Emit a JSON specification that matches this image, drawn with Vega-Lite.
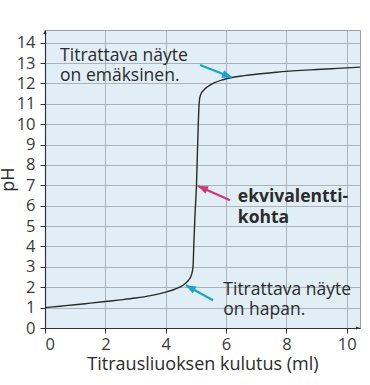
{
  "$schema": "https://vega.github.io/schema/vega-lite/v6.json",
  "width": 315,
  "height": 298,
  "autosize": "none",
  "padding": {"left": 45, "top": 30, "right": 10, "bottom": 58},
  "background": "white",
  "config": {
    "font": "Open Sans",
    "view": {"fill": "#e1eef6", "stroke": "#9a9fa4", "strokeWidth": 1}
  },
  "datasets": {
    "curve": [
      {"v": 0, "ph": 1.0}, {"v": 0.5, "ph": 1.07}, {"v": 1, "ph": 1.14}, {"v": 1.5, "ph": 1.22},
      {"v": 2, "ph": 1.3}, {"v": 2.5, "ph": 1.38}, {"v": 3, "ph": 1.47}, {"v": 3.5, "ph": 1.59},
      {"v": 4, "ph": 1.76}, {"v": 4.3, "ph": 1.9}, {"v": 4.5, "ph": 2.03}, {"v": 4.65, "ph": 2.18},
      {"v": 4.75, "ph": 2.33}, {"v": 4.83, "ph": 2.52}, {"v": 4.88, "ph": 2.75}, {"v": 4.91, "ph": 3.1},
      {"v": 4.93, "ph": 4.0}, {"v": 4.97, "ph": 5.5}, {"v": 5.02, "ph": 7.0}, {"v": 5.05, "ph": 8.5},
      {"v": 5.08, "ph": 10.0}, {"v": 5.1, "ph": 10.8}, {"v": 5.12, "ph": 11.2}, {"v": 5.16, "ph": 11.45},
      {"v": 5.25, "ph": 11.65}, {"v": 5.4, "ph": 11.85}, {"v": 5.6, "ph": 12.02}, {"v": 5.9, "ph": 12.18},
      {"v": 6.2, "ph": 12.29}, {"v": 6.6, "ph": 12.38}, {"v": 7, "ph": 12.45}, {"v": 7.5, "ph": 12.52},
      {"v": 8, "ph": 12.59}, {"v": 8.5, "ph": 12.64}, {"v": 9, "ph": 12.68}, {"v": 9.5, "ph": 12.72},
      {"v": 10, "ph": 12.76}, {"v": 10.44, "ph": 12.8}
    ],
    "arrows": [
      {"arrow": "top", "part": "start", "v": 5.14, "ph": 12.9},
      {"arrow": "top", "part": "tip", "v": 6.2, "ph": 12.29},
      {"arrow": "mid", "part": "start", "v": 6.13, "ph": 6.27},
      {"arrow": "mid", "part": "tip", "v": 5.07, "ph": 6.97},
      {"arrow": "bot", "part": "start", "v": 5.57, "ph": 1.36},
      {"arrow": "bot", "part": "tip", "v": 4.67, "ph": 2.1}
    ],
    "labels": [
      {"kind": "normal", "text": "Titrattava näyte", "v": 0.5, "ph": 13.1},
      {"kind": "normal", "text": "on emäksinen.", "v": 0.5, "ph": 12.12},
      {"kind": "bold", "text": "ekvivalentti-", "v": 6.39, "ph": 6.19},
      {"kind": "bold", "text": "kohta", "v": 6.39, "ph": 5.13},
      {"kind": "normal", "text": "Titrattava näyte", "v": 5.91, "ph": 1.64},
      {"kind": "normal", "text": "on hapan.", "v": 5.91, "ph": 0.62}
    ],
    "axisEnds": [
      {"end": "y", "v": 0, "ph": 14.62},
      {"end": "x", "v": 10.44, "ph": 0}
    ]
  },
  "encoding": {
    "x": {
      "field": "v", "type": "quantitative",
      "scale": {"domain": [0, 10.44], "nice": false, "zero": false},
      "axis": {
        "title": "Titrausliuoksen kulutus (ml)",
        "values": [0, 2, 4, 6, 8, 10],
        "grid": true, "gridColor": "#aab3bb", "gridWidth": 1,
        "domainColor": "#333333", "domainWidth": 1.2,
        "tickColor": "#333333", "tickSize": 5,
        "labelFont": "Open Sans", "labelFontSize": 16.5, "labelColor": "#3a3a3a", "labelPadding": 3,
        "titleFont": "Open Sans", "titleFontSize": 18, "titleFontWeight": "normal", "titleColor": "#2b2b2b", "titlePadding": 3
      }
    },
    "y": {
      "field": "ph", "type": "quantitative",
      "scale": {"domain": [0, 14.62], "nice": false, "zero": false},
      "axis": {
        "title": "pH",
        "values": [0, 1, 2, 3, 4, 5, 6, 7, 8, 9, 10, 11, 12, 13, 14],
        "grid": true, "gridColor": "#aab3bb", "gridWidth": 1,
        "domainColor": "#333333", "domainWidth": 1.2,
        "tickColor": "#333333", "tickSize": 5,
        "labelFont": "Open Sans", "labelFontSize": 16.5, "labelColor": "#3a3a3a", "labelPadding": 5,
        "titleFont": "Open Sans", "titleFontSize": 18, "titleFontWeight": "normal", "titleColor": "#2b2b2b", "titlePadding": 0, "titleX": -28
      }
    }
  },
  "layer": [
    {
      "data": {"name": "curve"},
      "mark": {"type": "line", "color": "#2a2a2a", "strokeWidth": 1.4, "interpolate": "monotone"},
      "encoding": {"order": {"field": "v", "type": "quantitative"}}
    },
    {
      "data": {"name": "arrows"},
      "mark": {"type": "line", "strokeWidth": 2.2},
      "encoding": {
        "detail": {"field": "arrow"},
        "color": {"field": "arrow", "type": "nominal", "scale": {"domain": ["top", "mid", "bot"], "range": ["#19a4c9", "#d1367b", "#19a4c9"]}, "legend": null}
      }
    },
    {
      "data": {"name": "arrows"},
      "transform": [{"filter": "datum.arrow == 'top' && datum.part == 'tip'"}],
      "mark": {"type": "point", "shape": "M0,0L-2,-0.8L-2,0.8Z", "filled": true, "size": 100, "color": "#19a4c9", "opacity": 1, "angle": 21}
    },
    {
      "data": {"name": "arrows"},
      "transform": [{"filter": "datum.arrow == 'mid' && datum.part == 'tip'"}],
      "mark": {"type": "point", "shape": "M0,0L-2,-0.8L-2,0.8Z", "filled": true, "size": 100, "color": "#d1367b", "opacity": 1, "angle": 204}
    },
    {
      "data": {"name": "arrows"},
      "transform": [{"filter": "datum.arrow == 'bot' && datum.part == 'tip'"}],
      "mark": {"type": "point", "shape": "M0,0L-2,-0.8L-2,0.8Z", "filled": true, "size": 100, "color": "#19a4c9", "opacity": 1, "angle": 209}
    },
    {
      "data": {"name": "labels"},
      "transform": [{"filter": "datum.kind == 'normal'"}],
      "mark": {"type": "text", "align": "left", "baseline": "alphabetic", "font": "Open Sans", "fontSize": 17.5, "color": "#2b2b2b"},
      "encoding": {"text": {"field": "text"}}
    },
    {
      "data": {"name": "labels"},
      "transform": [{"filter": "datum.kind == 'bold'"}],
      "mark": {"type": "text", "align": "left", "baseline": "alphabetic", "font": "Open Sans", "fontSize": 17.5, "fontWeight": "bold", "color": "#2b2b2b"},
      "encoding": {"text": {"field": "text"}}
    },
    {
      "data": {"name": "axisEnds"},
      "transform": [{"filter": "datum.end == 'y'"}],
      "mark": {"type": "point", "shape": "M0,0L-0.8,2L0.8,2Z", "filled": true, "size": 16, "color": "#333333", "opacity": 1}
    },
    {
      "data": {"name": "axisEnds"},
      "transform": [{"filter": "datum.end == 'x'"}],
      "mark": {"type": "point", "shape": "M0,0L-2,-0.8L-2,0.8Z", "filled": true, "size": 16, "color": "#333333", "opacity": 1}
    }
  ]
}
